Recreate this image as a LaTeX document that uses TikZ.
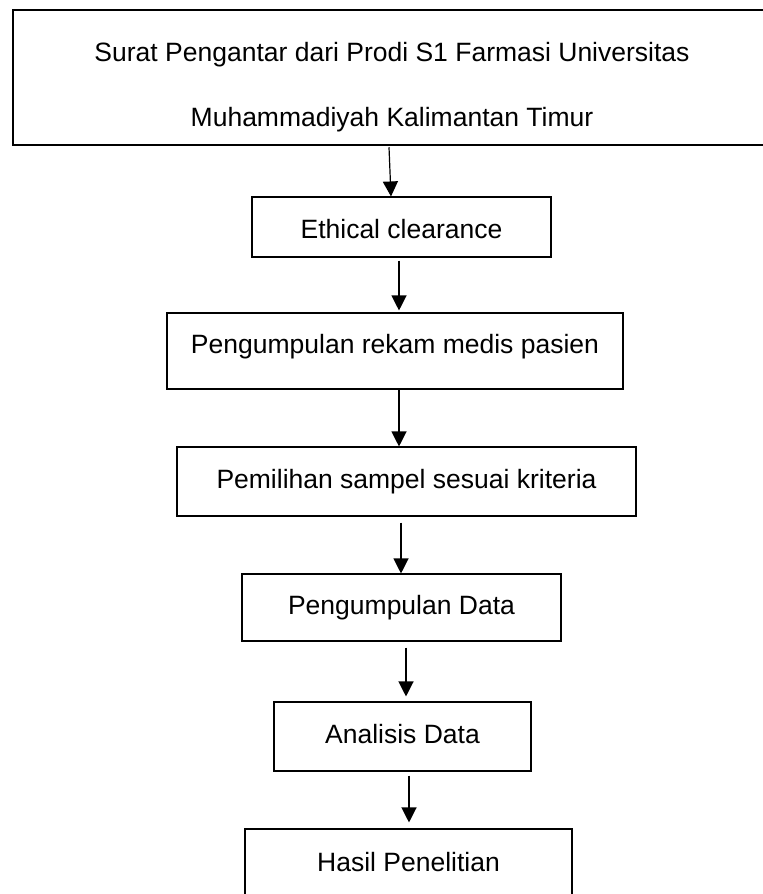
\documentclass[tikz,border=0pt]{standalone}
\usepackage{fontspec}
\setmainfont{Liberation Sans}
\usetikzlibrary{positioning,calc,arrows.meta}

\begin{document}
\begin{tikzpicture}[x=0.5pt, y=-0.5pt,
  box/.style={draw, line width=0.55pt, inner sep=0pt, font=\fontsize{13.25}{15}\selectfont, text height=9.5pt, text depth=2.5pt},
  arr/.style={line width=0.6pt, -{Triangle[width=7.5pt,length=7.5pt]}}]
\useasboundingbox (0,0) rectangle (763,894);

\node (surat) [draw, line width=1.25pt, minimum width=376.5pt, minimum height=67.5pt] at (389.5,77.5) {};
\node (suratText) [align=center, font=\fontsize{13.25}{32.5}\selectfont] at (392,87) {Surat Pengantar dari Prodi S1 Farmasi Universitas\\Muhammadiyah Kalimantan Timur};
\node (eth) [box, text height=11.5pt, text depth=0pt, minimum width=149.5pt, minimum height=30pt] at (401.5,227) {Ethical clearance};
\node (rekam) [box, text depth=7pt, minimum width=228pt, minimum height=38pt] at (395,351) {Pengumpulan rekam medis pasien};
\node (sampel) [box, minimum width=229.5pt, minimum height=34.5pt] at (406.5,481.5) {Pemilihan sampel sesuai kriteria};
\node (data) [box, minimum width=159.5pt, minimum height=33.5pt] at (401.5,607.5) {Pengumpulan Data};
\node (analisis) [box, minimum width=128.5pt, minimum height=34.5pt] at (402.5,736.5) {Analisis Data};
\node (hasil) [box, minimum width=163.5pt, minimum height=35pt] at (408.5,864) {Hasil Penelitian};

\draw[arr] ($(surat.south)+(-0.5,1)$) -- ($(eth.north)+(-10.5,0)$);
\draw[arr] ($(eth.south)+(-2.5,3)$) -- ($(rekam.north)+(4,-2)$);
\draw[arr] ($(rekam.south)+(4,0)$) -- ($(sampel.north)+(-7.5,0)$);
\draw[arr] ($(sampel.south)+(-5.5,6)$) -- ($(data.north)+(-0.5,0)$);
\draw[arr] ($(data.south)+(4.5,6)$) -- ($(analisis.north)+(3.5,-5)$);
\draw[arr] ($(analisis.south)+(6.5,4)$) -- ($(hasil.north)+(0.5,-6)$);
\end{tikzpicture}
\end{document}
